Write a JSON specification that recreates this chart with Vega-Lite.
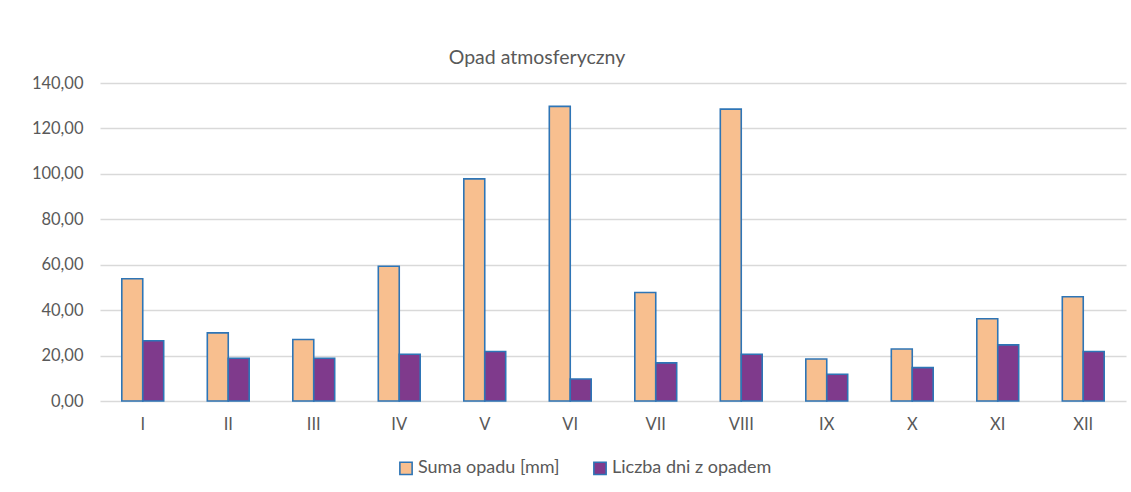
{
  "$schema": "https://vega.github.io/schema/vega-lite/v6.json",
  "width": 1026,
  "height": 318,
  "autosize": {"type": "none"},
  "padding": {"left": 100, "top": 83, "right": 5, "bottom": 91},
  "background": "white",
  "title": {
    "text": "Opad atmosferyczny",
    "anchor": "middle",
    "dx": -76,
    "offset": 7,
    "font": "Lato",
    "fontSize": 19.5,
    "fontWeight": "normal",
    "color": "#595959"
  },
  "data": {
    "values": [
      {"m": "I", "s": "Suma opadu [mm]", "v": 53.8},
      {"m": "I", "s": "Liczba dni z opadem", "v": 26.5},
      {"m": "II", "s": "Suma opadu [mm]", "v": 30.0},
      {"m": "II", "s": "Liczba dni z opadem", "v": 18.8},
      {"m": "III", "s": "Suma opadu [mm]", "v": 27.1},
      {"m": "III", "s": "Liczba dni z opadem", "v": 18.8},
      {"m": "IV", "s": "Suma opadu [mm]", "v": 59.3},
      {"m": "IV", "s": "Liczba dni z opadem", "v": 20.6},
      {"m": "V", "s": "Suma opadu [mm]", "v": 97.8},
      {"m": "V", "s": "Liczba dni z opadem", "v": 21.8},
      {"m": "VI", "s": "Suma opadu [mm]", "v": 129.7},
      {"m": "VI", "s": "Liczba dni z opadem", "v": 9.7},
      {"m": "VII", "s": "Suma opadu [mm]", "v": 47.8},
      {"m": "VII", "s": "Liczba dni z opadem", "v": 16.8},
      {"m": "VIII", "s": "Suma opadu [mm]", "v": 128.5},
      {"m": "VIII", "s": "Liczba dni z opadem", "v": 20.6},
      {"m": "IX", "s": "Suma opadu [mm]", "v": 18.5},
      {"m": "IX", "s": "Liczba dni z opadem", "v": 11.8},
      {"m": "X", "s": "Suma opadu [mm]", "v": 22.9},
      {"m": "X", "s": "Liczba dni z opadem", "v": 14.7},
      {"m": "XI", "s": "Suma opadu [mm]", "v": 36.2},
      {"m": "XI", "s": "Liczba dni z opadem", "v": 24.7},
      {"m": "XII", "s": "Suma opadu [mm]", "v": 45.9},
      {"m": "XII", "s": "Liczba dni z opadem", "v": 21.8}
    ]
  },
  "mark": {"type": "bar", "stroke": "#2E75B6", "strokeWidth": 1.6},
  "encoding": {
    "x": {
      "field": "m",
      "type": "nominal",
      "sort": null,
      "title": null,
      "scale": {"paddingInner": 0.51, "paddingOuter": 0.255},
      "axis": {
        "labelAngle": 0,
        "ticks": false,
        "domain": false,
        "labelFont": "Lato",
        "labelFontSize": 16.5,
        "labelColor": "#595959",
        "labelPadding": 15
      }
    },
    "xOffset": {"field": "s", "type": "nominal", "sort": ["Suma opadu [mm]", "Liczba dni z opadem"]},
    "y": {
      "field": "v",
      "type": "quantitative",
      "title": null,
      "scale": {"domain": [0, 140], "nice": false},
      "axis": {
        "values": [0, 20, 40, 60, 80, 100, 120, 140],
        "labelExpr": "replace(format(datum.value, '.2f'), '.', ',')",
        "ticks": false,
        "domain": false,
        "gridColor": "#D9D9D9",
        "gridWidth": 1.3,
        "labelFont": "Lato",
        "labelFontSize": 16.5,
        "labelColor": "#595959",
        "labelPadding": 17
      }
    },
    "color": {
      "field": "s",
      "type": "nominal",
      "sort": ["Suma opadu [mm]", "Liczba dni z opadem"],
      "scale": {"domain": ["Suma opadu [mm]", "Liczba dni z opadem"], "range": ["#F8BF8F", "#7F3A8C"]},
      "legend": {
        "title": null,
        "orient": "none",
        "direction": "horizontal",
        "legendX": 297,
        "legendY": 376,
        "symbolType": "square",
        "symbolSize": 150,
        "symbolStrokeColor": "#2E75B6",
        "symbolStrokeWidth": 1.6,
        "symbolOpacity": 1,
        "labelFont": "Lato",
        "labelFontSize": 18,
        "labelColor": "#595959",
        "labelOffset": 3,
        "columnPadding": 30
      }
    }
  },
  "config": {"view": {"stroke": null}}
}
